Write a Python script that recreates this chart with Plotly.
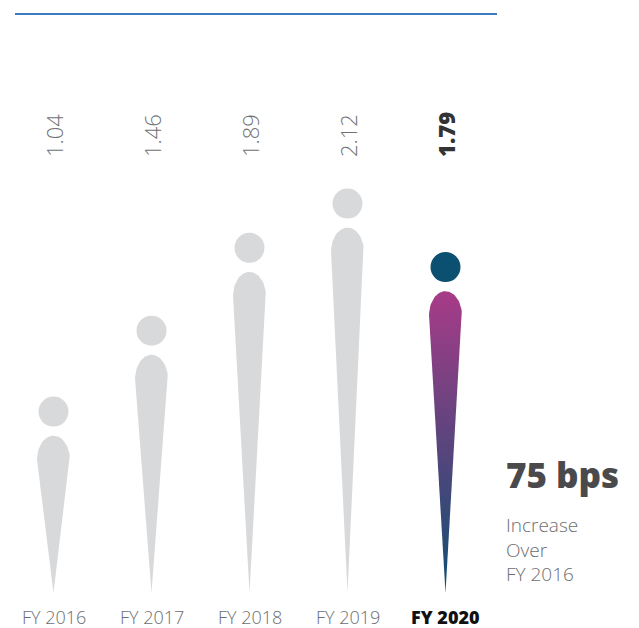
import numpy as np
import plotly.graph_objects as go

# data
years = ['FY 2016', 'FY 2017', 'FY 2018', 'FY 2019', 'FY 2020']
values = [1.04, 1.46, 1.89, 2.12, 1.79]
value_labels = ['1.04', '1.46', '1.89', '2.12', '1.79']
headline = '75 bps'
sub_lines = ['Increase', 'Over', 'FY 2016']

# styling
GREY = '#d8d9db'
TEXT = '#6d6e71'
DOT_DARK = '#0b4f71'
MAGENTA = '#a83b88'
BLUE_END = '#0d4f72'
FONT = 'Open Sans'

BASE = 0.223          # value where the tips end
HALF_W = 0.168        # half width of a drop, x units
CAP = 0.125           # height of the rounded top, y units
DOT_GAP = 0.125       # distance from top of drop to dot centre

fig = go.Figure()

t = np.linspace(0, np.pi, 40)
for i, v in enumerate(values):
    # right side up, rounded cap across, left side down
    xs = [i, i + HALF_W] + list(i + HALF_W * np.cos(t)) + [i - HALF_W, i]
    ys = [BASE, v - CAP] + list(v - CAP + CAP * np.sin(t)) + [v - CAP, BASE]
    last = i == len(values) - 1
    kw = dict(x=xs, y=ys, mode='lines', fill='toself', line=dict(width=0),
              hoverinfo='skip', showlegend=False)
    if last:
        kw['fillgradient'] = dict(type='vertical', start=BASE, stop=v,
                                  colorscale=[[0, BLUE_END], [1, MAGENTA]])
    else:
        kw['fillcolor'] = GREY
    fig.add_trace(go.Scatter(**kw))

fig.add_trace(go.Scatter(
    x=list(range(len(values))),
    y=[v + DOT_GAP for v in values],
    mode='markers',
    marker=dict(size=30, color=[GREY] * (len(values) - 1) + [DOT_DARK], line=dict(width=0)),
    hoverinfo='skip', showlegend=False,
))

# rotated value labels and year labels
for i, (lab, yr) in enumerate(zip(value_labels, years)):
    last = i == len(values) - 1
    fig.add_annotation(
        x=i, y=1 - 159 / 628, xref='x', yref='paper', text=lab,
        textangle=-90, showarrow=False, xanchor='center', yanchor='bottom',
        font=dict(family=FONT, size=22, weight=800 if last else 300,
                  color='#333333' if last else '#707174'))
    fig.add_annotation(
        x=i, y=1 - 617 / 628, xref='x', yref='paper', text=yr,
        showarrow=False, xanchor='center', yanchor='middle',
        font=dict(family=FONT, size=18, weight=800 if last else 300,
                  color='#111111' if last else TEXT))

fig.add_annotation(
    x=504 / 639, y=1 - 474 / 628, xref='paper', yref='paper', text=headline,
    showarrow=False, xanchor='left', yanchor='middle',
    font=dict(family=FONT, size=35, weight=800, color='#4a4a4c'))
fig.add_annotation(
    x=504 / 639, y=1 - 549 / 628, xref='paper', yref='paper', text='<br>'.join(sub_lines),
    showarrow=False, xanchor='left', yanchor='middle', align='left',
    font=dict(family=FONT, size=19, weight=300, color=TEXT))

# rule at top
fig.add_shape(type='line', xref='paper', yref='paper',
              x0=15 / 639, x1=497 / 639, y0=1 - 14 / 628, y1=1 - 14 / 628,
              line=dict(color='#3b7bc4', width=2))

px_x = 98.0
px_y = 192.6
fig.update_layout(
    width=639, height=628,
    margin=dict(l=0, r=0, t=0, b=0),
    paper_bgcolor='white', plot_bgcolor='white',
    xaxis=dict(range=[-53.5 / px_x, (639 - 53.5) / px_x], visible=False, fixedrange=True),
    yaxis=dict(range=[BASE - 35 / px_y, BASE + 593 / px_y], visible=False, fixedrange=True),
)

# page body has a default margin; drop it so the figure sits at the window corner
fig.write_html('out.html', config={'displayModeBar': False},
               post_script="document.body.style.margin='0';")
